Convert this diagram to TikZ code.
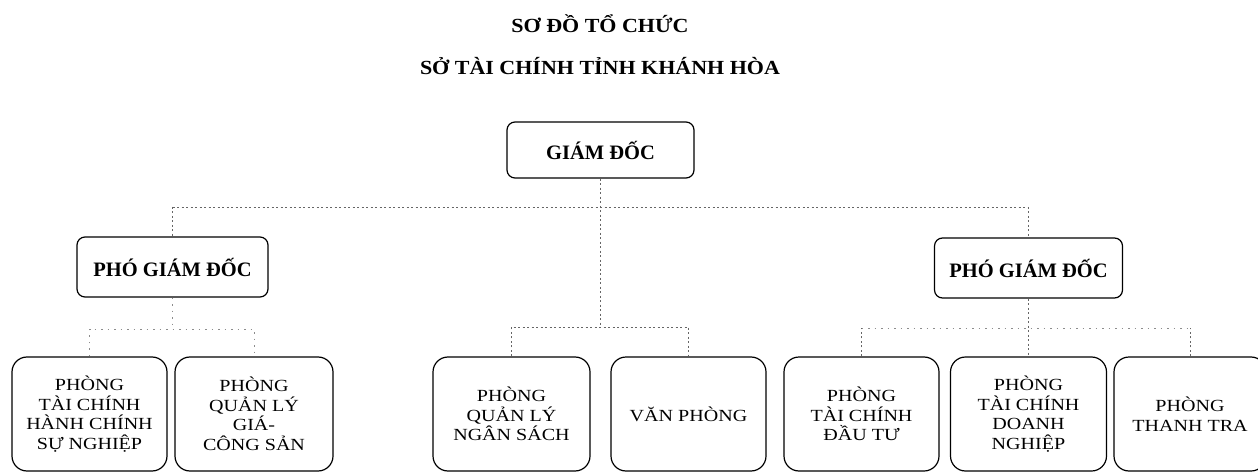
\documentclass[tikz,border=0pt]{standalone}
\usepackage{fontspec}
\setmainfont{Liberation Serif}
\newfontfamily\boxfont[FakeStretch=1.18]{Liberation Serif}
\newfontfamily\titlefont[FakeStretch=1.1]{Liberation Serif}
\begin{document}
\begin{tikzpicture}[x=1pt,y=-1pt,
  titletext/.style={anchor=base, inner sep=0pt, font=\titlefont\bfseries\fontsize{20}{24}\selectfont},
  topbox/.style={draw=black, line width=1.2pt, rounded corners=8pt, align=center, inner sep=0pt,
     font=\bfseries\fontsize{20.5}{24}\selectfont},
  unitbox/.style={draw=black, line width=1.2pt, rounded corners=15pt, align=center, inner sep=0pt,
     minimum height=114pt, font=\boxfont\fontsize{17}{19.5}\selectfont},
  conn/.style={draw=black!60, line width=0.6pt, dash pattern=on 2pt off 2.5pt},
  faint/.style={draw=black!45, line width=0.5pt, dash pattern=on 1.5pt off 5pt}]
\useasboundingbox (0,0) rectangle (1258,473);
\fill[white] (0,0) rectangle (1258,473);
\clip (0,0) rectangle (1258,473);

% titles
\node[titletext] (t1) at (600,33) {SƠ ĐỒ TỔ CHỨC};
\node[titletext] (t2) at (600,75) {SỞ TÀI CHÍNH TỈNH KHÁNH HÒA};

% top levels
\node[topbox, minimum width=187pt, minimum height=56pt] (gd) at (600.5,150) {GIÁM ĐỐC};
\node[topbox, minimum width=191pt, minimum height=60pt] (pgd1) at (172.5,267) {PHÓ GIÁM ĐỐC};
\node[topbox, minimum width=188pt, minimum height=60pt] (pgd2) at (1028.5,268) {PHÓ GIÁM ĐỐC};

% units
\node[unitbox, minimum width=155pt] (b1) at (89.5,414) {PHÒNG\\TÀI CHÍNH\\HÀNH CHÍNH\\SỰ NGHIỆP};
\node[unitbox, minimum width=158pt] (b2) at (254,414) {PHÒNG\\QUẢN LÝ\\GIÁ-\\CÔNG SẢN};
\node[unitbox, minimum width=157pt] (b3) at (511.5,414) {PHÒNG\\QUẢN LÝ\\NGÂN SÁCH};
\node[unitbox, minimum width=155pt] (b4) at (688.5,414) {VĂN PHÒNG};
\node[unitbox, minimum width=155pt] (b5) at (861.5,414) {PHÒNG\\TÀI CHÍNH\\ĐẦU TƯ};
\node[unitbox, minimum width=156pt] (b6) at (1028.5,414) {PHÒNG\\TÀI CHÍNH\\DOANH\\NGHIỆP};
\node[unitbox, minimum width=152pt] (b7) at (1190,414) {PHÒNG\\THANH TRA};

% junction coordinates
\coordinate (hl) at (pgd1.north |- 0,207);
\coordinate (hr) at (pgd2.north |- 0,207);
\coordinate (cm) at (gd.south |- 0,327);
\coordinate (lm) at (pgd1.south |- 0,329);
\coordinate (rm) at (pgd2.south |- 0,328);

% connectors
\draw[conn] (gd.south) -- (cm);
\draw[conn] (hl) -- (hr);
\draw[conn] (hl) -- (pgd1.north);
\draw[conn] (hr) -- (pgd2.north);
\draw[conn] (b3.north) -- (b3.north |- cm) -| (b4.north);
\draw[faint] (pgd1.south) -- (lm);
\draw[faint] (b1.north) -- (b1.north |- lm) -| (b2.north);
\draw[conn] (pgd2.south) -- (b6.north);
\draw[faint] (b5.north |- rm) -- (b7.north |- rm);
\draw[conn] (b5.north) -- (b5.north |- rm);
\draw[conn] (b7.north) -- (b7.north |- rm);
\end{tikzpicture}
\end{document}
